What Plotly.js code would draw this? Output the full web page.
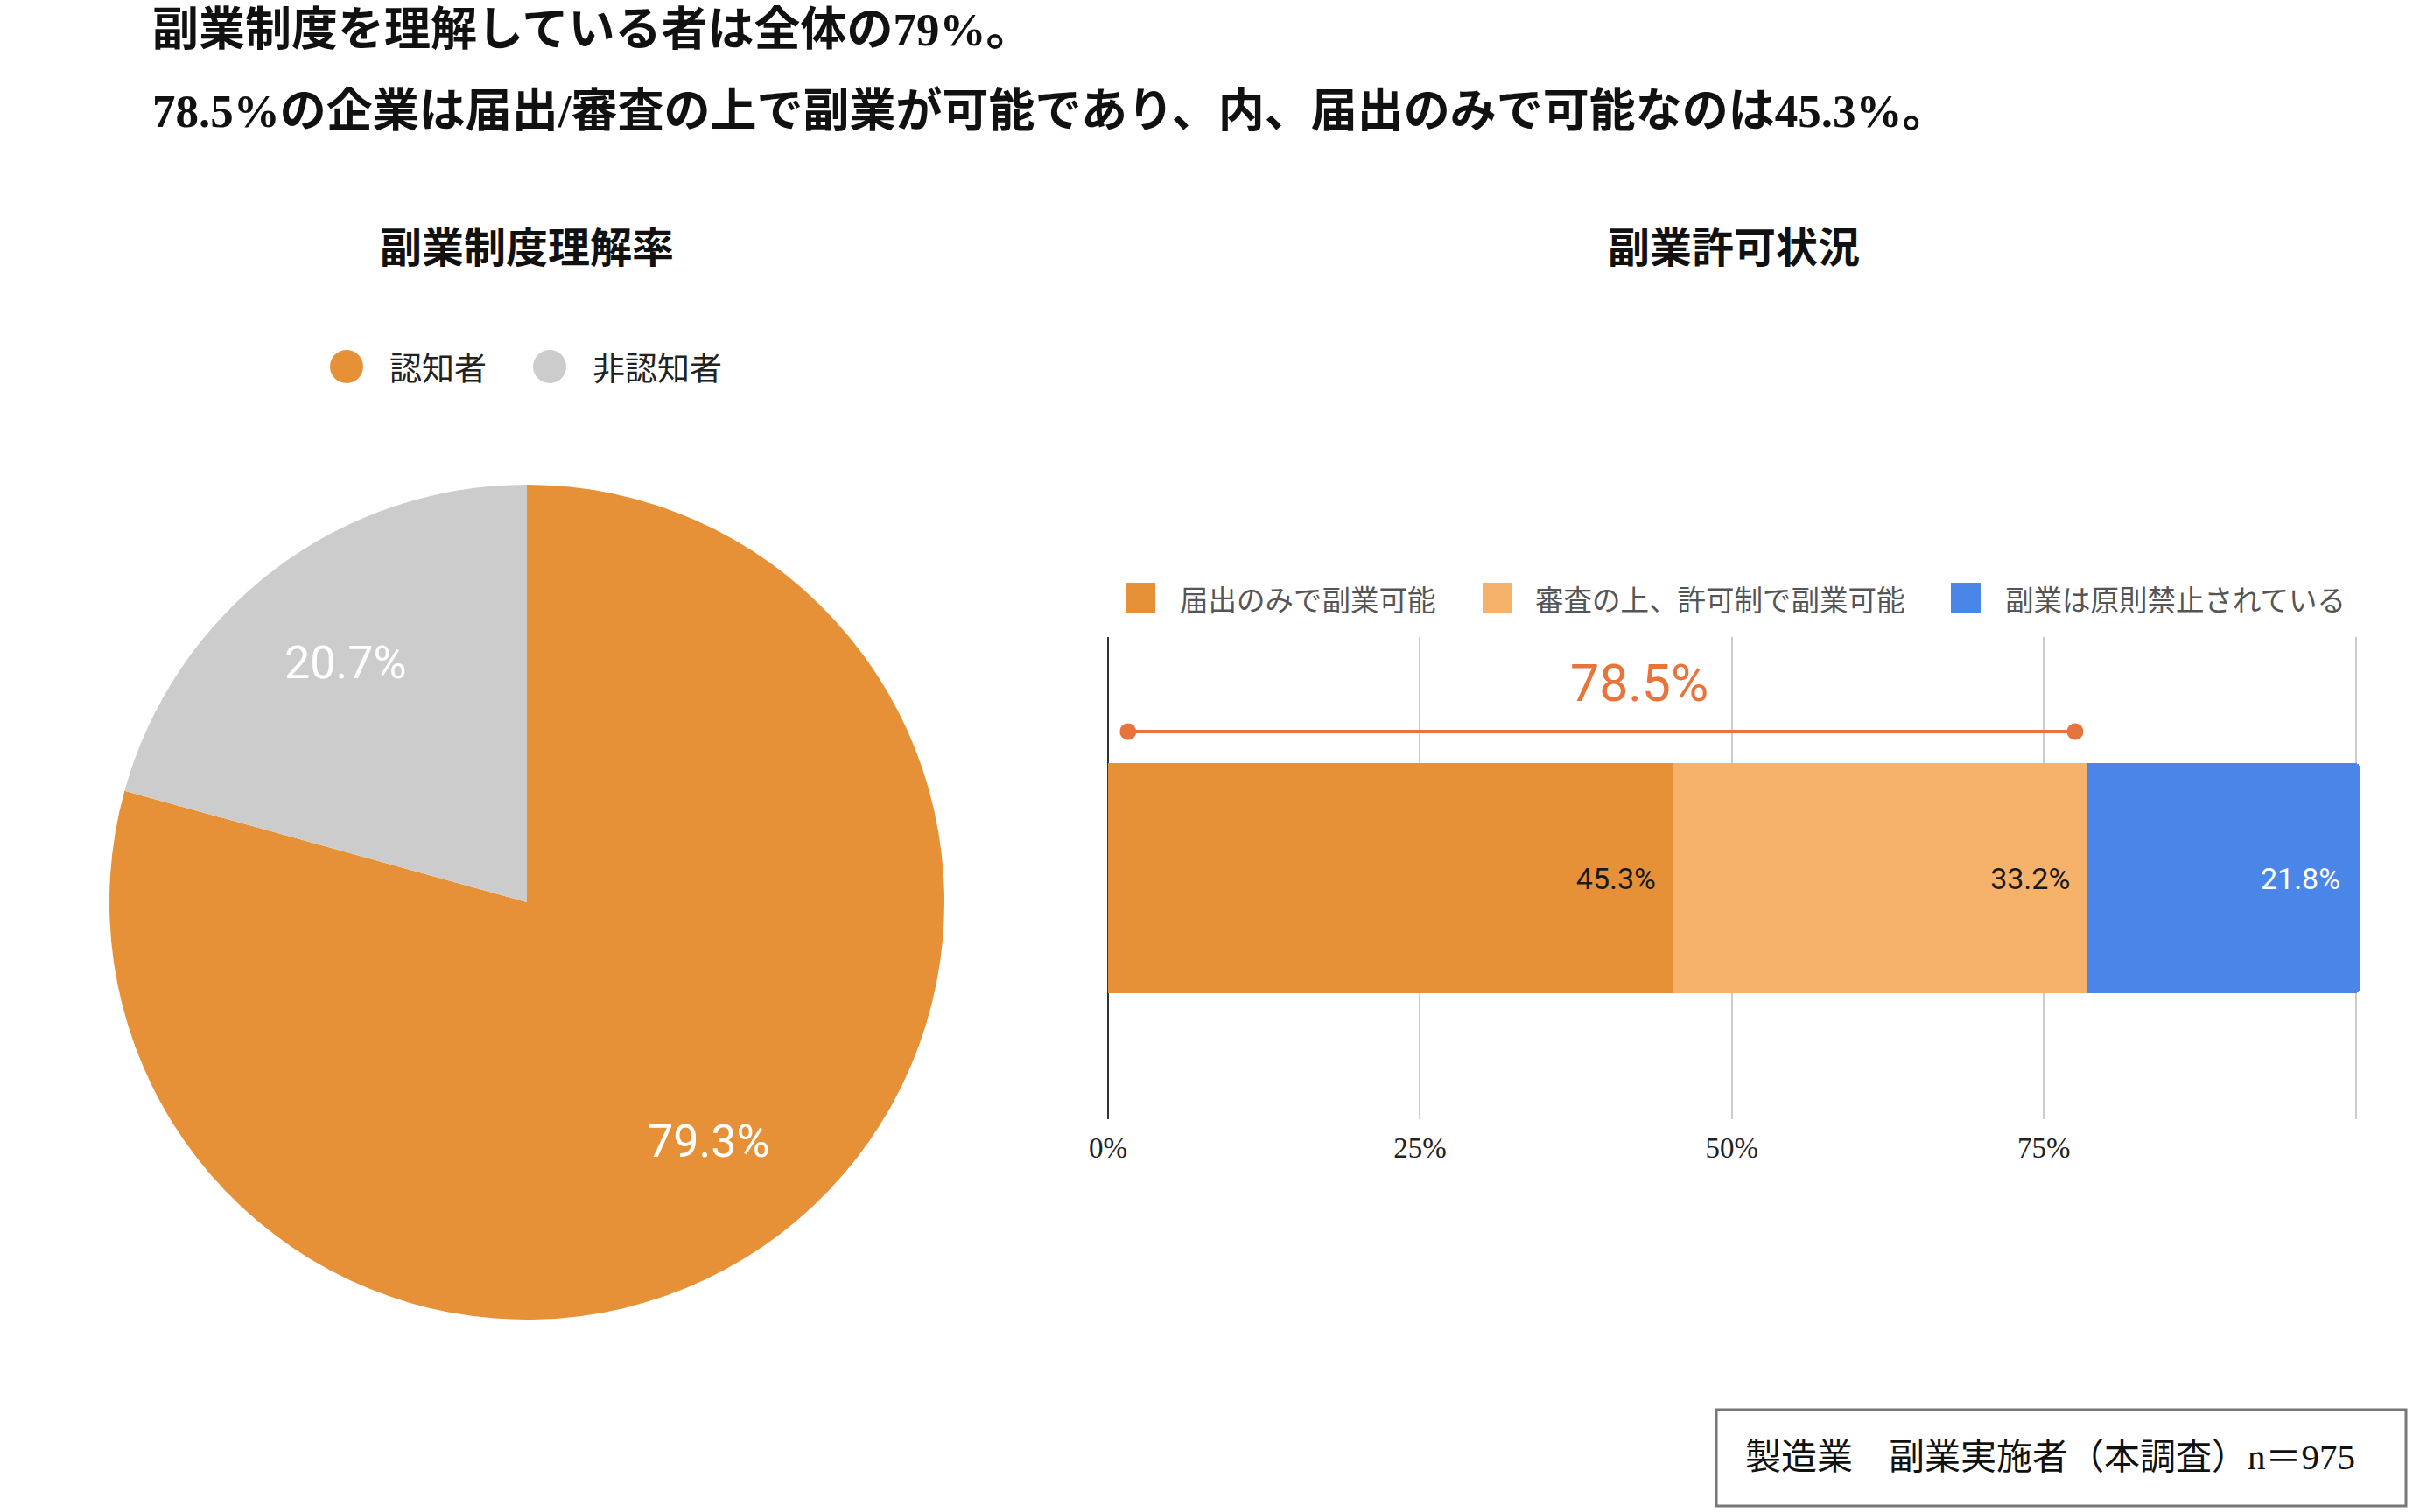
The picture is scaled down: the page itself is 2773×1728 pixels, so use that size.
<!DOCTYPE html>
<html>
<head>
<meta charset="utf-8">
<script src="https://cdn.plot.ly/plotly-3.0.1.min.js"></script>
<style>
  html, body { margin: 0; padding: 0; background: #ffffff; }
  #chart { width: 2773px; height: 1728px; }
</style>
</head>
<body>
<div id="chart"></div>
<script>
// ---------------- DATA ----------------
const titleLines = [
  '副業制度を理解している者は全体の79%。',
  '78.5%の企業は届出/審査の上で副業が可能であり、内、届出のみで可能なのは45.3%。'
];
const pieTitle = '副業制度理解率';
const barTitle = '副業許可状況';
const pieLabels = ['認知者', '非認知者'];
const pieValues = [79.3, 20.7];
const barCategories = ['届出のみで副業可能', '審査の上、許可制で副業可能', '副業は原則禁止されている'];
const barValues = [45.3, 33.2, 21.8];
const tickValues = [0, 25, 50, 75, 100];
const tickLabels = ['0%', '25%', '50%', '75%', ''];
const bracketRange = [1.6, 77.5];
const footerText = '製造業　副業実施者（本調査）n＝975';

// ---------------- STYLE ----------------
const W = 2773, H = 1728;
const SANS = "Roboto, 'Noto Sans CJK JP', sans-serif";
const CJK = "'Noto Sans CJK JP', Roboto, sans-serif";
const SERIF = "'Liberation Serif', 'Noto Sans CJK JP', serif";
const pieColors = ['#e69138', '#cccccc'];
const barColors = ['#e69138', '#f6b26b', '#4a86e8'];
const barTextColors = ['#1a1a1a', '#1a1a1a', '#ffffff'];
const accent = '#e8743b';

const px = v => v / W;          // pixel -> paper x
const py = v => 1 - v / H;      // pixel -> paper y

// pie geometry (pixels)
const pieCx = 602, pieCy = 1031, pieR = 477;
// bar plot area (pixels)
const barX0 = 1266, barX1 = 2696, barY0 = 728, barY1 = 1279;

const traces = [];

traces.push({
  type: 'pie',
  labels: pieLabels,
  values: pieValues,
  sort: false,
  direction: 'clockwise',
  rotation: 0,
  marker: { colors: pieColors, line: { width: 0 } },
  textinfo: 'none',
  hoverinfo: 'skip',
  showlegend: false,
  domain: { x: [px(pieCx - pieR), px(pieCx + pieR)], y: [py(pieCy + pieR), py(pieCy - pieR)] }
});

const barTotal = barValues.reduce((a, b) => a + b, 0);
barCategories.forEach((name, i) => {
  traces.push({
    type: 'bar',
    orientation: 'h',
    name: name,
    x: [barValues[i]],
    y: [0],
    width: 0.955,
    marker: { color: barColors[i], line: { width: 0 } },
    text: [barValues[i].toFixed(1) + '%\u00A0\u00A0'],
    textposition: 'inside',
    insidetextanchor: 'end',
    textangle: 0,
    constraintext: 'none',
    cliponaxis: false,
    insidetextfont: { family: SANS, size: 34, color: barTextColors[i] },
    hoverinfo: 'skip',
    showlegend: false,
    xaxis: 'x', yaxis: 'y'
  });
});

traces.push({
  type: 'scatter',
  mode: 'lines+markers',
  x: bracketRange,
  y: [0.608, 0.608],
  line: { color: accent, width: 4 },
  marker: { color: accent, size: 19 },
  cliponaxis: false,
  hoverinfo: 'skip',
  showlegend: false,
  xaxis: 'x', yaxis: 'y'
});

const annotations = [];
const shapes = [];

// Headline
const titleY = [34, 127];
titleLines.forEach((t, i) => {
  annotations.push({
    xref: 'paper', yref: 'paper', x: px(172), y: py(titleY[i]),
    xanchor: 'left', yanchor: 'middle', showarrow: false, text: t,
    font: { family: SERIF, size: 53, color: '#111111', weight: 700 }
  });
});

// Sub titles
annotations.push({
  xref: 'paper', yref: 'paper', x: px(pieCx), y: py(283),
  xanchor: 'center', yanchor: 'middle', showarrow: false, text: pieTitle,
  font: { family: SERIF, size: 48, color: '#111111', weight: 700 }
});
annotations.push({
  xref: 'paper', yref: 'paper', x: px((barX0 + barX1) / 2), y: py(283),
  xanchor: 'center', yanchor: 'middle', showarrow: false, text: barTitle,
  font: { family: SERIF, size: 48, color: '#111111', weight: 700 }
});

// Pie legend (circles)
const pieLegCx = [396, 628], pieLegTx = [443, 675], pieLegY = 419, pieLegR = 19;
pieLabels.forEach((lab, i) => {
  shapes.push({
    type: 'circle', xref: 'paper', yref: 'paper',
    x0: px(pieLegCx[i] - pieLegR), x1: px(pieLegCx[i] + pieLegR),
    y0: py(pieLegY + pieLegR), y1: py(pieLegY - pieLegR),
    fillcolor: pieColors[i], line: { width: 0 }
  });
  annotations.push({
    xref: 'paper', yref: 'paper', x: px(pieLegTx[i]), y: py(pieLegY),
    xanchor: 'left', yanchor: 'middle', showarrow: false, text: lab,
    font: { family: CJK, size: 37, color: '#222222' }
  });
});

// Pie slice labels
const pieSum = pieValues.reduce((a, b) => a + b, 0);
let cum = 0;
pieValues.forEach((v, i) => {
  const mid = (cum + v / 2) / pieSum;
  cum += v;
  const th = mid * 2 * Math.PI;
  const lx = pieCx + 0.72 * pieR * Math.sin(th);
  const ly = pieCy - 0.72 * pieR * Math.cos(th);
  annotations.push({
    xref: 'paper', yref: 'paper', x: px(lx), y: py(ly),
    xanchor: 'center', yanchor: 'middle', showarrow: false,
    text: v.toFixed(1) + '%',
    font: { family: SANS, size: 52, color: '#ffffff' }
  });
});

// Bar legend (squares)
const barLegCx = [1303, 1711, 2246], barLegTx = [1346, 1752, 2289], barLegY = 683, barLegH = 17;
barCategories.forEach((lab, i) => {
  shapes.push({
    type: 'rect', xref: 'paper', yref: 'paper',
    x0: px(barLegCx[i] - barLegH), x1: px(barLegCx[i] + barLegH),
    y0: py(barLegY + barLegH), y1: py(barLegY - barLegH),
    fillcolor: barColors[i], line: { width: 0 }
  });
  annotations.push({
    xref: 'paper', yref: 'paper', x: px(barLegTx[i]), y: py(barLegY),
    xanchor: 'left', yanchor: 'middle', showarrow: false, text: lab,
    font: { family: CJK, size: 32.5, color: '#555555' }
  });
});

// Bracket label
const allowed = barValues[0] + barValues[1];
annotations.push({
  xref: 'x', yref: 'y', x: 42.6, y: 0.808,
  xanchor: 'center', yanchor: 'middle', showarrow: false,
  text: allowed.toFixed(1) + '%',
  font: { family: SANS, size: 59, color: accent }
});

// Footer box
shapes.push({
  type: 'rect', xref: 'paper', yref: 'paper',
  x0: px(1961), x1: px(2749), y0: py(1721), y1: py(1611),
  fillcolor: 'rgba(0,0,0,0)', line: { color: '#777777', width: 3 }
});
annotations.push({
  xref: 'paper', yref: 'paper', x: px(1992), y: py(1665),
  xanchor: 'left', yanchor: 'middle', showarrow: false, text: footerText,
  font: { family: SERIF, size: 41, color: '#111111' }
});

const layout = {
  width: W, height: H,
  margin: { l: 0, r: 0, t: 0, b: 0, pad: 0 },
  paper_bgcolor: '#ffffff', plot_bgcolor: 'rgba(0,0,0,0)',
  showlegend: false,
  barmode: 'stack',
  barcornerradius: 5,
  xaxis: {
    domain: [px(barX0), px(barX1)],
    range: [0, 100.3],
    tickvals: tickValues, ticktext: tickLabels,
    ticks: '', showline: false,
    showgrid: true, gridcolor: '#cccccc', gridwidth: 2,
    zeroline: true, zerolinecolor: '#333333', zerolinewidth: 2,
    tickfont: { family: SERIF, size: 33, color: '#222222' },
    ticklabelstandoff: 10,
    fixedrange: true
  },
  yaxis: {
    domain: [py(barY1), py(barY0)],
    range: [-1, 1],
    showgrid: false, zeroline: false, showticklabels: false, showline: false, ticks: '',
    fixedrange: true
  },
  annotations: annotations,
  shapes: shapes
};

Plotly.newPlot('chart', traces, layout, { displayModeBar: false, staticPlot: true });
</script>
</body>
</html>
